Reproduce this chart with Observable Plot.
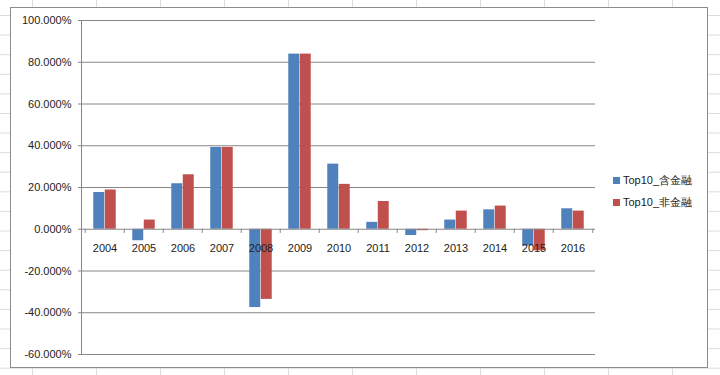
<!DOCTYPE html>
<html>
<head>
<meta charset="utf-8">
<script src="https://cdn.jsdelivr.net/npm/d3@7"></script>
<script src="https://cdn.jsdelivr.net/npm/@observablehq/plot@0.6"></script>
<style>
  html, body { margin: 0; padding: 0; }
  body {
    width: 720px; height: 375px; position: relative; overflow: hidden;
    background-color: #ffffff;
    background-image:
      linear-gradient(to right, #dadcdd 1px, transparent 1px),
      linear-gradient(to bottom, #dadcdd 1px, transparent 1px);
    background-size: 64px 100%, 100% 19.6px;
    background-position: 32px 0, 0 15px;
    font-family: "Liberation Sans", Arial, sans-serif;
  }
  #box {
    position: absolute; left: 10px; top: 7px; width: 696px; height: 359px;
    border: 1px solid #8c8c8c; background: #ffffff;
  }
  #chart { position: absolute; left: 0; top: 0; }
  #legend { position: absolute; left: 613px; top: 169px; font-size: 11px; color: #222; }
  #legend .row { display: flex; align-items: center; height: 22.3px; white-space: nowrap; }
  #legend .sw { width: 7px; height: 7px; margin-right: 3px; }
</style>
</head>
<body>
<div id="box"></div>
<div id="chart"></div>
<div id="legend"></div>
<script>
const years = ["2004","2005","2006","2007","2008","2009","2010","2011","2012","2013","2014","2015","2016"];
const withFinance = [17.6, -5.5, 21.8, 39.2, -37.5, 83.9, 31.2, 3.3, -3.0, 4.4, 9.3, -8.0, 9.8];
const nonFinance  = [18.8, 4.4, 26.1, 39.2, -33.6, 83.9, 21.5, 13.3, -0.7, 8.7, 11.1, -10.3, 8.7];
const seriesNames = ["Top10_含金融", "Top10_非金融"];
const seriesColors = ["#4F81BD", "#C0504D"];
const yTicks = [-60, -40, -20, 0, 20, 40, 60, 80, 100];

const W = 720, H = 375;
const mL = 81, mR = 125, mT = 20, mB = 21;
const step = (W - mL - mR) / years.length;
const barW = 11.5;
const outer = step / 2 - barW;

const rowsA = years.map((y, i) => ({year: y, value: withFinance[i]}));
const rowsB = years.map((y, i) => ({year: y, value: nonFinance[i]}));
const fmt = d => d.toFixed(3) + "%";

const plot = Plot.plot({
  width: W, height: H,
  marginLeft: mL, marginRight: mR, marginTop: mT, marginBottom: mB,
  style: {background: "transparent", fontFamily: "Liberation Sans, Arial, sans-serif", fontSize: "11px", color: "#222"},
  x: {type: "band", domain: years, padding: 0, axis: null},
  y: {domain: [-60, 100], axis: null, label: null},
  marks: [
    Plot.ruleY(yTicks.filter(d => d !== 0), {stroke: "#868686", strokeWidth: 1}),
    Plot.barY(rowsA, {x: "year", y: "value", fill: seriesColors[0], insetLeft: outer, insetRight: step - outer - barW}),
    Plot.barY(rowsB, {x: "year", y: "value", fill: seriesColors[1], insetLeft: outer + barW, insetRight: outer}),
    Plot.ruleY([0], {stroke: "#868686", strokeWidth: 1}),
    Plot.ruleX(years, {x: d => d, y1: 0, y2: -2, dx: -step / 2, stroke: "#868686"}),
    Plot.ruleX([years[years.length - 1]], {x: d => d, y1: 0, y2: -2, dx: step / 2, stroke: "#868686"}),
    Plot.axisY(yTicks, {label: null, tickFormat: fmt, tickSize: 3, tickPadding: 7, stroke: "#868686", fill: "#222", fontSize: 11}),
    Plot.text(years, {x: d => d, y: 0, dy: 19, text: d => d, fill: "#222", fontSize: 11})
  ]
});
document.getElementById("chart").appendChild(plot);

// y-axis line
const svg = d3.select(plot);
svg.append("line").attr("x1", mL + 0.5).attr("x2", mL + 0.5).attr("y1", mT).attr("y2", H - mB).attr("stroke", "#868686");

const legend = document.getElementById("legend");
seriesNames.forEach((name, i) => {
  const row = document.createElement("div");
  row.className = "row";
  const sw = document.createElement("div");
  sw.className = "sw";
  sw.style.background = seriesColors[i];
  const t = document.createElement("span");
  t.textContent = name;
  row.appendChild(sw); row.appendChild(t);
  legend.appendChild(row);
});
</script>
</body>
</html>
